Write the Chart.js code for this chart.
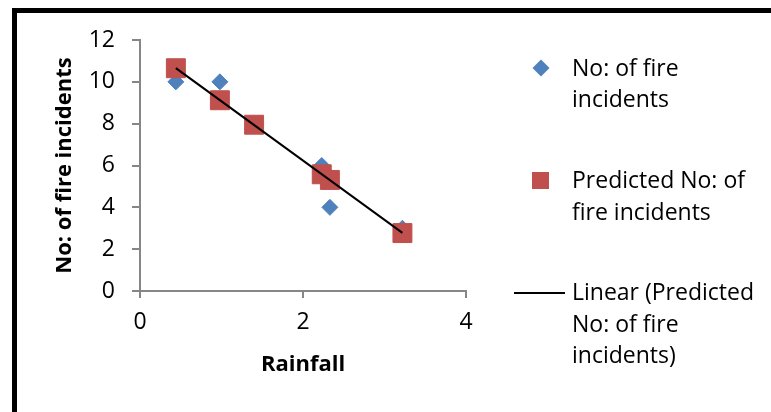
<!DOCTYPE html>
<html>
<head>
<meta charset="utf-8">
<script src="https://cdn.jsdelivr.net/npm/chart.js@4"></script>
<style>
  html, body { margin: 0; padding: 0; background: #fff; }
  #wrap { position: relative; width: 771px; height: 412px; overflow: hidden; }
  #frame { position: absolute; left: 12px; top: 8px; width: 800px; height: 420px;
           border-left: 5px solid #000; border-top: 5px solid #000; box-sizing: border-box; }
  canvas { position: absolute; left: 0; top: 0; }
</style>
</head>
<body>
<div id="wrap">
  <div id="frame"></div>
  <canvas id="c" width="771" height="412"></canvas>
</div>
<script>
// Data
const rainfall = [0.44, 0.98, 1.40, 2.23, 2.33, 3.22];
const fireIncidents = [10, 10, 8, 6, 4, 3];
const predictedIncidents = [10.65, 9.12, 7.95, 5.58, 5.31, 2.77];
const xTicks = [0, 2, 4];
const yTicks = [0, 2, 4, 6, 8, 10, 12];
const seriesNames = ['No: of fire incidents', 'Predicted No: of fire incidents', 'Linear (Predicted No: of fire incidents)'];
const legendLines = [['No: of fire', 'incidents'], ['Predicted No: of', 'fire incidents'], ['Linear (Predicted', 'No: of fire', 'incidents)']];

// Linear trendline of predicted values (least squares)
function linFit(xs, ys) {
  const n = xs.length;
  const mx = xs.reduce((a, b) => a + b, 0) / n;
  const my = ys.reduce((a, b) => a + b, 0) / n;
  let sxy = 0, sxx = 0;
  for (let i = 0; i < n; i++) { sxy += (xs[i] - mx) * (ys[i] - my); sxx += (xs[i] - mx) ** 2; }
  const b = sxy / sxx, a = my - b * mx;
  const x0 = Math.min(...xs), x1 = Math.max(...xs);
  return [{ x: x0, y: a + b * x0 }, { x: x1, y: a + b * x1 }];
}

const BLUE = '#4F81BD', RED = '#C0504D', AXIS = '#868686';
const FONT = "'Open Sans', sans-serif";

const legendPlugin = {
  id: 'customLegend',
  afterDraw(chart) {
    const ctx = chart.ctx;
    ctx.save();
    // diamond
    ctx.fillStyle = BLUE;
    ctx.beginPath();
    ctx.moveTo(541, 59.5); ctx.lineTo(549.5, 68); ctx.lineTo(541, 76.5); ctx.lineTo(532.5, 68);
    ctx.closePath(); ctx.fill();
    // square
    ctx.fillStyle = RED;
    ctx.fillRect(532, 172, 17, 17);
    // line
    ctx.strokeStyle = '#000'; ctx.lineWidth = 2;
    ctx.beginPath(); ctx.moveTo(514, 293); ctx.lineTo(565, 293); ctx.stroke();
    // text
    ctx.fillStyle = '#000';
    ctx.font = "23px " + FONT;
    ctx.textBaseline = 'alphabetic';
    ctx.textAlign = 'left';
    const baselines = [[76, 107], [188, 220], [300, 332, 363]];
    legendLines.forEach((lines, i) => {
      lines.forEach((t, j) => ctx.fillText(t, 572, baselines[i][j]));
    });
    ctx.restore();
  }
};

new Chart(document.getElementById('c'), {
  type: 'scatter',
  data: {
    datasets: [
      {
        label: seriesNames[2],
        type: 'line',
        data: linFit(rainfall, predictedIncidents),
        borderColor: '#000',
        borderWidth: 2,
        pointRadius: 0,
        fill: false,
        order: 0
      },
      {
        label: seriesNames[1],
        data: rainfall.map((x, i) => ({ x, y: predictedIncidents[i] })),
        pointStyle: 'rect',
        pointRadius: 13.4,
        backgroundColor: RED,
        borderColor: RED,
        borderWidth: 1,
        order: 1
      },
      {
        label: seriesNames[0],
        data: rainfall.map((x, i) => ({ x, y: fireIncidents[i] })),
        pointStyle: 'rectRot',
        pointRadius: 8,
        backgroundColor: BLUE,
        borderColor: BLUE,
        borderWidth: 1,
        order: 2
      }
    ]
  },
  options: {
    responsive: false,
    animation: false,
    devicePixelRatio: 1,
    layout: { padding: { left: 0, right: 305, top: 40, bottom: 0 } },
    plugins: { legend: { display: false }, tooltip: { enabled: false } },
    scales: {
      x: {
        type: 'linear',
        min: 0, max: 4,
        afterFit(s) { s.height = 121; },
        afterBuildTicks(s) { s.ticks = xTicks.map(v => ({ value: v })); },
        ticks: { color: '#000', font: { family: FONT, size: 23 }, padding: 11 },
        grid: { drawOnChartArea: false, drawTicks: true, tickLength: 7, color: AXIS, lineWidth: 2 },
        border: { color: AXIS, width: 2 },
        title: { display: true, text: 'Rainfall', color: '#000',
                 font: { family: FONT, size: 22, weight: 'bold' }, padding: { top: 34, bottom: 34 } }
      },
      y: {
        type: 'linear',
        min: 0, max: 12,
        afterFit(s) { s.width = 140; },
        afterBuildTicks(s) { s.ticks = yTicks.map(v => ({ value: v })); },
        ticks: { color: '#000', font: { family: FONT, size: 23 }, padding: 17 },
        grid: { drawOnChartArea: false, drawTicks: true, tickLength: 8, color: AXIS, lineWidth: 2 },
        border: { color: AXIS, width: 2 },
        title: { display: true, text: seriesNames[0], color: '#000',
                 font: { family: FONT, size: 22, weight: 'bold' }, padding: { top: 52, bottom: 52 } }
      }
    }
  },
  plugins: [legendPlugin]
});
</script>
</body>
</html>
